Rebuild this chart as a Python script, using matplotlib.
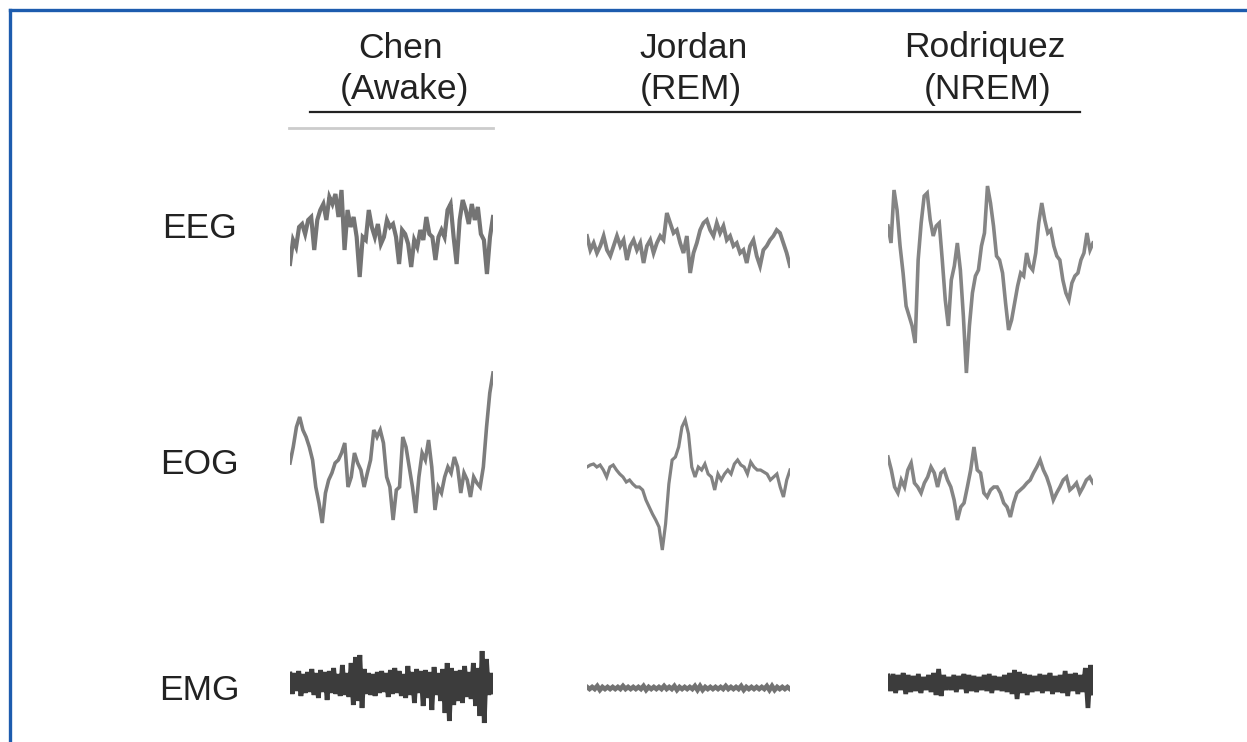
import numpy as np
import matplotlib
matplotlib.use("Agg")
import matplotlib.pyplot as plt
from matplotlib.lines import Line2D

plt.rcParams['font.family'] = ['Liberation Sans', 'DejaVu Sans']

W, H = 1247, 742

subjects = ["Chen", "Jordan", "Rodriquez"]
states = ["(Awake)", "(REM)", "(NREM)"]
signals = ["EEG", "EOG", "EMG"]

# traces, amplitude in arbitrary units (up = positive), equal time steps
eeg_chen = [-27, -3, -10, 10, 13, 3, 17, 20, -13, 17, 27, 33, 17, 40, 33, 43, 20, 47, -13, 27,
            10, 20, 0, -40, 0, -3, 27, 10, 0, 13, -7, 0, 17, 10, 13, 0, -27, 7, 3, -7,
            -30, -3, -10, 7, -3, 20, 3, 0, -23, 0, 7, 0, 27, 33, 0, -27, 17, 37, 27, 13,
            33, 17, 30, 3, -3, -37, 0, 20]
eeg_jordan = [7, -7, 0, -10, -3, 7, -7, -13, -3, 7, -3, 3, -17, -3, 3, -7, 0, -20, -3, 3,
              -10, 0, 7, 3, 30, 20, 10, 13, 0, -10, 7, -30, -10, 0, 13, 20, 23, 13, 7, 20,
              10, 17, 3, 7, -3, 0, -10, -7, -20, -3, 3, -13, -23, -7, -3, 3, 7, 13, 10, 0,
              -10, -23]
eeg_rodriquez = [17, 0, 53, 33, -3, -30, -63, -73, -83, -100, -17, 20, 47, 50, 23, 7, 17, 20, -17, -57,
                 -83, -37, -23, 0, -27, -73, -130, -83, -50, -33, -27, -3, 10, 57, 40, 17, -13, -17, -30, -60,
                 -87, -77, -60, -43, -30, -33, -10, -23, -27, -10, 20, 40, 23, 10, 13, -3, -13, -17, -37, -50,
                 -57, -40, -33, -30, -17, -10, 10, -7, 0]

eog_chen = [7, 23, 43, 53, 40, 33, 23, 10, -17, -33, -53, -23, -10, -3, 7, 10, 17, 27, -17, -7,
            17, 7, 0, -17, -3, 10, 40, 33, 40, 27, -7, -17, -50, -20, -17, 33, 23, 3, -17, -43,
            -7, 17, 10, 30, 3, -40, -17, -23, -7, 3, -3, 13, 3, -23, -3, -10, -27, -7, -13, -17,
            3, 43, 77, 97]
eog_jordan = [0, 2, 3, 0, 2, -3, -10, 0, 2, -3, -7, -10, -15, -13, -17, -20, -20, -23, -33, -40,
              -47, -53, -60, -83, -57, -17, 7, 10, 20, 40, 47, 33, 0, -10, 0, -3, 3, -7, -10, -23,
              -7, -13, -7, -3, -7, 3, 7, 2, 0, -7, 5, 0, -3, -3, -5, -7, -13, -10, -7, -20,
              -30, -13, -3]
eog_rodriquez = [23, 10, -7, -13, 0, -7, 10, 17, -3, -7, -13, -3, 3, 13, 7, -7, 7, 10, 0, -7,
                 -20, -40, -27, -23, -7, 10, 33, 10, 7, -13, -17, -10, -7, -7, -13, -23, -27, -37, -23, -13,
                 -10, -7, -3, 0, 7, 13, 20, 10, 3, -7, -20, -13, -7, 0, 3, -10, -7, -3, -13, -7,
                 0, 3, -3]

emg_chen = [9, -11, 10, -8, 12, -13, 9, -10, 11, -9, 14, -12, 10, -15, 13, -9, 11, -17, 12, -10,
            15, -11, 9, -13, 18, -12, 10, -14, 20, -22, 26, -18, 28, -25, 14, -11, 10, -12, 9, -13,
            11, -10, 12, -9, 10, -14, 13, -11, 15, -10, 12, -13, 9, -15, 17, -12, 11, -20, 14, -10,
            12, -23, 13, -15, 11, -27, 16, -12, 10, -18, 14, -30, 20, -38, 15, -22, 12, -18, 13, -20,
            17, -14, 11, -16, 20, -23, 15, -33, 32, -40, 24, -12, 10, -9]
emg_jordan = [1, -1, 1, -1, 2, -2, 1, -1, 1, -1, 1, -1, 1, -1, 2, -1, 1, -1, 1, -1,
              1, -1, 2, -2, 1, -1, 1, -1, 1, -1, 2, -1, 1, -1, 2, -2, 1, -1, 1, -1,
              1, -1, 2, -2, 2, -2, 1, -1, 1, -1, 1, -1, 1, -1, 2, -1, 1, -1, 1, -1,
              2, -2, 1, -1, 1, -1, 1, -1, 1, -1, 2, -2, 2, -2, 1, -1, 1, -1, 1, -1]
emg_rodriquez = [7, -8, 9, -10, 8, -7, 10, -11, 8, -9, 7, -8, 9, -10, 6, -7, 8, -9, 10, -12,
                 14, -13, 8, -7, 6, -7, 8, -9, 7, -6, 9, -10, 8, -8, 7, -9, 6, -7, 8, -8,
                 9, -10, 7, -7, 6, -8, 8, -9, 10, -11, 13, -16, 11, -10, 9, -12, 8, -9, 7, -8,
                 9, -10, 8, -8, 10, -11, 7, -9, 8, -10, 12, -13, 9, -8, 10, -11, 8, -9, 15, -25,
                 18, -10]

traces = [[eeg_chen, eeg_jordan, eeg_rodriquez],
          [eog_chen, eog_jordan, eog_rodriquez],
          [emg_chen, emg_jordan, emg_rodriquez]]

# layout in pixels
col_x = [(290, 493), (587, 790), (888, 1093)]
row_cy = [[237, 243, 243], [470, 467, 480], [683, 688, 683]]
half = 150
colors = [["#5c5c5c", "#6a6a6a", "#707070"],
          ["#666666", "#6c6c6c", "#707070"],
          ["#1a1a1a", "#5a5a5a", "#1a1a1a"]]
widths = [[3.0, 2.8, 2.6], [2.6, 2.3, 2.6], [3.4, 3.4, 3.4]]

fig = plt.figure(figsize=(W / 100, H / 100), dpi=100)

for r in range(3):
    for c in range(3):
        x0, x1 = col_x[c]
        cy = row_cy[r][c]
        ax = fig.add_axes([x0 / W, 1 - (cy + half) / H, (x1 - x0) / W, 2 * half / H])
        ax.patch.set_alpha(0)
        y = np.array(traces[r][c])
        t = np.linspace(0, 1, len(y))
        ax.plot(t, y, color=colors[r][c], lw=widths[r][c], solid_joinstyle='miter', alpha=0.85)
        ax.set_xlim(0, 1)
        ax.set_ylim(-half, half)
        ax.axis('off')

# headers
head_x = [400, 694, 985]
state_x = [404, 691, 988]
for i in range(3):
    fig.text(head_x[i] / W, 1 - 48 / H, subjects[i], ha='center', va='center',
             fontsize=25.5, color='#222222')
    fig.text(state_x[i] / W, 1 - 90 / H, states[i], ha='center', va='center',
             fontsize=25.5, color='#222222')

label_y = [229, 465, 690]
for i in range(3):
    fig.text(199 / W, 1 - label_y[i] / H, signals[i], ha='center', va='center',
             fontsize=25.5, color='#222222')

# rules under headers
fig.add_artist(Line2D([310 / W, 1080 / W], [1 - 112 / H, 1 - 112 / H], color='#222222', lw=1.6))
fig.add_artist(Line2D([289 / W, 493 / W], [1 - 128 / H, 1 - 128 / H], color='#cccccc', lw=2.0))

# blue frame (top and left)
fig.add_artist(Line2D([10 / W, 1], [1 - 10 / H, 1 - 10 / H], color='#1d5cae', lw=2.4))
fig.add_artist(Line2D([10 / W, 10 / W], [0, 1 - 10 / H], color='#1d5cae', lw=2.4))

fig.savefig("out.png", dpi=100, facecolor='white')
